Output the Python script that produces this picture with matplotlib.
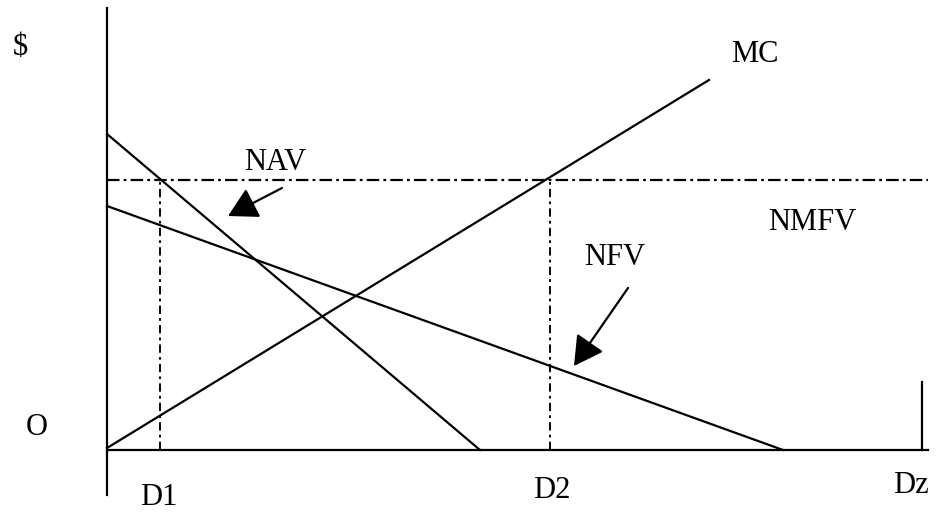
import matplotlib
matplotlib.use('Agg')
import matplotlib.pyplot as plt

# Schematic values (origin at O, arbitrary units)
x_end = 8.21          # end of the horizontal axis
y_top = 4.42          # top of the vertical axis
y_bottom = -0.45      # vertical axis drawn a little below O
dz = 8.15             # Dz marker on the horizontal axis
dz_height = 0.68
nmfv_level = 2.70

nav_x = [0.0, 3.73]
nav_y = [3.16, 0.0]
nfv_x = [0.0, 6.76]
nfv_y = [2.44, 0.0]
mc_x = [0.0, 6.02]
mc_y = [0.02, 3.70]

d1 = 0.53
d2 = 4.43

# label text, x, y (baseline)
labels = [
    ('$', -0.87, 3.95),
    ('NAV', 1.68, 2.80),
    ('MC', 6.48, 3.88),
    ('NMFV', 7.05, 2.20),
    ('NFV', 5.08, 1.85),
    ('O', -0.70, 0.15),
    ('D1', 0.52, -0.55),
    ('D2', 4.45, -0.48),
    ('Dz', 8.04, -0.43),
]

# arrows: (tail, head)
arrows = [
    ((1.75, 2.62), (1.21, 2.34)),
    ((5.21, 1.62), (4.67, 0.84)),
]

plt.rcParams['font.family'] = ['Liberation Serif', 'DejaVu Serif']
plt.rcParams['lines.scale_dashes'] = False

fig = plt.figure(figsize=(9.38, 5.16), dpi=100)
ax = fig.add_axes([0, 0, 1, 1])
ax.set_xlim(-1.07, 8.31)
ax.set_ylim(-0.66, 4.50)
ax.axis('off')

lw = 1.6
dashdot = (0, (9, 3, 2, 3))

# axes
ax.plot([0, 0], [y_bottom, y_top], color='black', lw=lw)
ax.plot([0, x_end], [0, 0], color='black', lw=lw)
ax.plot([dz, dz], [0, dz_height], color='black', lw=lw)

# NMFV level and the two drop lines
ax.plot([0, x_end], [nmfv_level, nmfv_level], color='black', lw=lw,
        linestyle=dashdot)
ax.plot([d1, d1], [0, nmfv_level], color='black', lw=lw * 0.85,
        linestyle=(0, (6, 3, 2, 3)))
ax.plot([d2, d2], [0, nmfv_level], color='black', lw=lw * 0.85,
        linestyle=(0, (6, 3, 2, 3)))

# curves
ax.plot(nav_x, nav_y, color='black', lw=lw)
ax.plot(nfv_x, nfv_y, color='black', lw=lw)
ax.plot(mc_x, mc_y, color='black', lw=lw)

for tail, head in arrows:
    ax.annotate('', xy=head, xytext=tail,
                arrowprops=dict(arrowstyle='-|>,head_length=0.9,head_width=0.5',
                                color='black', lw=lw, mutation_scale=20,
                                shrinkA=0, shrinkB=0))

for text, x, y in labels:
    ax.text(x, y, text, fontsize=22, ha='center', va='baseline')

fig.savefig('out.png', dpi=100, facecolor='white')
